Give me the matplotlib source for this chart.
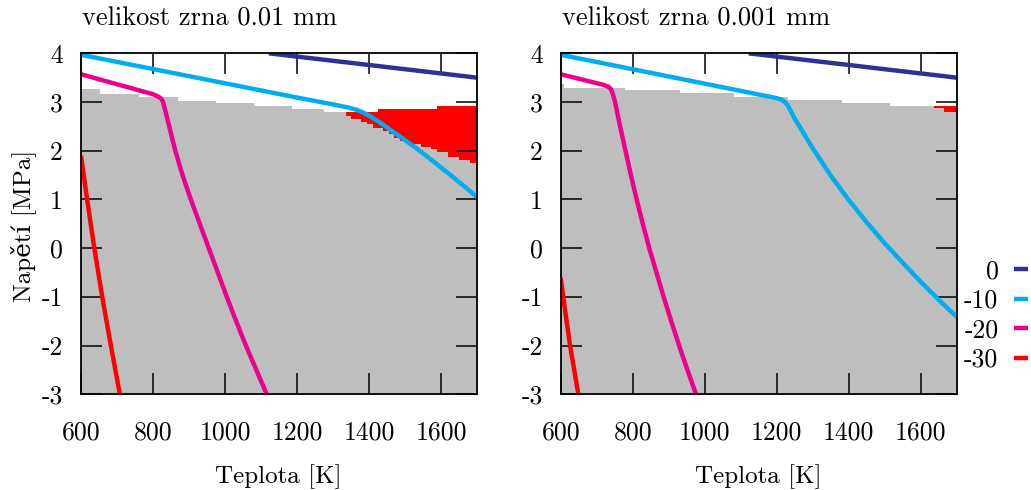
import numpy as np
import matplotlib
matplotlib.use("Agg")
import matplotlib.pyplot as plt

# temperatures [K] and stresses [MPa]

# grain size 0.01 mm
left_gray_edges = [600, 652, 762, 869, 976, 1081, 1186, 1275, 1337, 1349, 1379, 1395,
                   1411, 1439, 1455, 1469, 1485, 1515, 1545, 1573, 1589, 1619, 1650, 1680, 1700]
left_gray_top = [3.26, 3.17, 3.10, 3.03, 2.98, 2.92, 2.855, 2.80, 2.72, 2.65, 2.60, 2.54,
                 2.47, 2.41, 2.34, 2.27, 2.20, 2.13, 2.08, 2.03, 1.97, 1.88, 1.81, 1.75]
left_red_edges = [1337, 1425, 1589, 1700]
left_red_top = [2.80, 2.855, 2.92]

left_t0 = [1122, 1400, 1700]
left_s0 = [4.00, 3.76, 3.50]
left_t10 = [600, 1208, 1301, 1340, 1366, 1385, 1403, 1420, 1440, 1486, 1532, 1579, 1625, 1671, 1700]
left_s10 = [3.97, 3.08, 2.95, 2.89, 2.84, 2.78, 2.71, 2.63, 2.53, 2.29, 2.05, 1.78, 1.51, 1.23, 1.05]
left_t20 = [600, 800, 815, 823, 828, 835, 845, 862, 882, 905, 930, 955, 980, 1005, 1031, 1058, 1087, 1116]
left_s20 = [3.57, 3.16, 3.11, 3.07, 3.00, 2.80, 2.50, 2.00, 1.50, 1.00, 0.50, 0.00, -0.50, -1.00,
            -1.50, -2.00, -2.50, -3.00]
left_t30 = [600, 617, 637, 659, 683, 708]
left_s30 = [1.90, 1.00, 0.00, -1.00, -2.00, -3.00]

# grain size 0.001 mm
right_gray_edges = [600, 610, 779, 931, 1081, 1230, 1381, 1515, 1638, 1664, 1700]
right_gray_top = [3.38, 3.29, 3.25, 3.18, 3.11, 3.05, 2.99, 2.92, 2.87, 2.80]
right_red_edges = [1638, 1700]
right_red_top = [2.92]

right_t0 = [1122, 1400, 1700]
right_s0 = [4.00, 3.76, 3.50]
right_t10 = [600, 1200, 1213, 1223, 1231, 1240, 1250, 1265, 1300, 1350, 1400, 1450, 1500,
             1550, 1600, 1650, 1700]
right_s10 = [3.97, 3.08, 3.05, 3.00, 2.93, 2.80, 2.66, 2.48, 2.05, 1.49, 0.99, 0.53, 0.10,
             -0.30, -0.69, -1.06, -1.41]
right_t20 = [600, 720, 733, 740, 745, 751, 765, 780, 795, 811, 828, 846, 866, 886, 907, 929, 952, 976]
right_s20 = [3.57, 3.35, 3.31, 3.26, 3.16, 3.00, 2.50, 2.00, 1.50, 1.00, 0.50, 0.00, -0.50, -1.00,
             -1.50, -2.00, -2.50, -3.00]
right_t30 = [600, 613, 626, 649]
right_s30 = [-0.61, -1.32, -2.00, -3.00]

series_labels = ["0", "-10", "-20", "-30"]
series_colors = ["#2E3192", "#00AEEF", "#EC008C", "#FF0000"]
titles = ["velikost zrna 0.01 mm", "velikost zrna 0.001 mm"]

xticks = [600, 800, 1000, 1200, 1400, 1600]
yticks = [-3, -2, -1, 0, 1, 2, 3, 4]

plt.rcParams['font.family'] = ['cmr10', 'DejaVu Serif']
plt.rcParams['axes.unicode_minus'] = False

W, H = 1031, 490
fig = plt.figure(figsize=(W / 100, H / 100), dpi=100)


def step_fill(ax, edges, tops, color, z):
    edges = np.asarray(edges, dtype=float)
    tops = np.append(tops, tops[-1])
    ax.fill_between(edges, -3, tops, step='post', color=color, lw=0, zorder=z)


def panel(left_px, gray_e, gray_t, red_e, red_t, curves, title, xlabel_cx):
    ax = fig.add_axes([left_px / W, 1 - 394.3 / H, 396 / W, 341 / H])
    step_fill(ax, red_e, red_t, "#FF0000", 0.5)
    step_fill(ax, gray_e, gray_t, "#BEBEBE", 1)
    for (t, s), c, lab in zip(curves, series_colors, series_labels):
        ax.plot(t, s, color=c, lw=3.2, label=lab, zorder=3, solid_capstyle='butt',
                solid_joinstyle='round')
    ax.set_xlim(600, 1700)
    ax.set_ylim(-3, 4)
    ax.set_xticks(xticks)
    ax.set_xticklabels([str(v) for v in xticks])
    ax.set_yticks(yticks)
    ax.set_yticklabels([str(v) for v in yticks])
    ax.tick_params(direction='in', length=15, width=1.1, top=True, right=True,
                   labelsize=18.5, colors='black')
    ax.tick_params(axis='x', pad=19)
    ax.tick_params(axis='y', pad=13)
    ax.set_axisbelow(False)
    for sp in ax.spines.values():
        sp.set_linewidth(1.3)
        sp.set_zorder(4)
    fig.text((left_px + 1) / W, 1 - 26 / H, title, fontsize=19, ha='left', va='baseline')
    fig.text(xlabel_cx / W, 1 - 483 / H, "Teplota [K]", fontsize=18, ha='center', va='baseline')
    return ax


ax1 = panel(81, left_gray_edges, left_gray_top, left_red_edges, left_red_top,
            [(left_t0, left_s0), (left_t10, left_s10), (left_t20, left_s20), (left_t30, left_s30)],
            titles[0], 278)
ax2 = panel(560.7, right_gray_edges, right_gray_top, right_red_edges, right_red_top,
            [(right_t0, right_s0), (right_t10, right_s10), (right_t20, right_s20), (right_t30, right_s30)],
            titles[1], 758)

fig.text(23 / W, 1 - 226 / H, "Napětí [MPa]", fontsize=18, rotation=90, ha='center', va='center')

ax2.legend(loc='center right', bbox_to_anchor=(1028 / W, 1 - 315.6 / H),
           bbox_transform=fig.transFigure, frameon=False, markerfirst=False,
           fontsize=18.5, handlelength=0.55, handletextpad=0.6, labelspacing=0.22,
           borderpad=0, borderaxespad=0)

fig.savefig("out.png", dpi=100)
